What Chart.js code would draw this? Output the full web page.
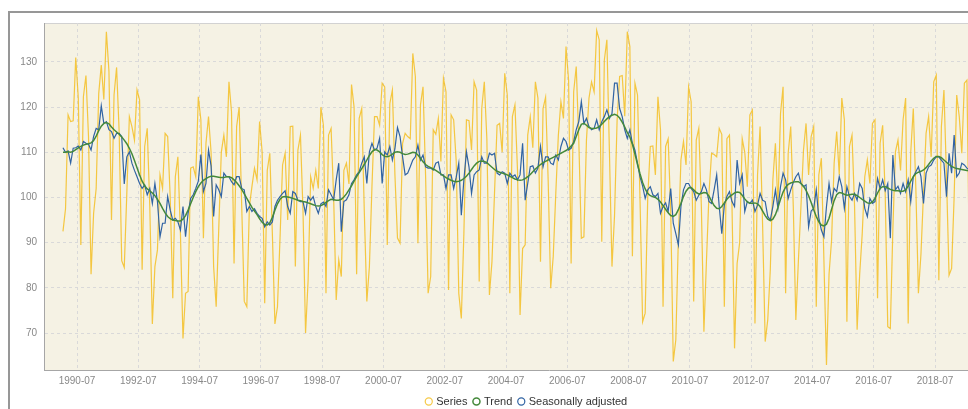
<!DOCTYPE html>
<html>
<head>
<meta charset="utf-8">
<script src="https://cdn.jsdelivr.net/npm/chart.js@4.4.0/dist/chart.umd.min.js"></script>
<style>
  html, body { margin: 0; padding: 0; background: #fff; overflow: hidden; width: 968px; height: 409px; }
  #frame { position: absolute; left: 8px; top: 11px; width: 1100px; height: 420px; border-top: 2px solid #979797; border-left: 2px solid #979797; }
  #wrap { position: absolute; left: 0; top: 0; width: 1054px; height: 417px; }
</style>
</head>
<body>
<div id="frame"></div>
<div id="wrap"><canvas id="chart" width="1054" height="417"></canvas></div>
<script>
// monthly data, first value = 1990-01
const startYear = 1990;

const tickLabels = ['1990-07', '1992-07', '1994-07', '1996-07', '1998-07', '2000-07', '2002-07',
  '2004-07', '2006-07', '2008-07', '2010-07', '2012-07', '2014-07', '2016-07', '2018-07'];
const yTicks = [70, 80, 90, 100, 110, 120, 130];

const series = [
  92.5, 97.5, 118.3, 116.8, 117.0, 131.0, 122.0, 89.5, 122.3, 127.0, 113.5, 83.0,
  96.5, 102.0, 123.0, 129.3, 121.7, 136.7, 128.0, 95.0, 122.7, 128.8, 114.6, 86.0,
  84.5, 100.9, 117.9, 115.7, 112.7, 123.8, 121.6, 84.0, 111.3, 115.3, 98.0, 72.0,
  84.7, 88.4, 105.0, 102.0, 114.2, 113.5, 100.0, 77.7, 104.6, 109.0, 92.0, 68.8,
  78.8, 79.2, 106.5, 106.8, 104.6, 122.3, 117.2, 91.0, 112.0, 117.9, 110.0, 84.7,
  75.8, 93.0, 110.0, 113.8, 109.0, 125.6, 119.0, 85.4, 115.7, 120.0, 98.0, 77.0,
  75.8, 98.0, 102.4, 106.5, 103.9, 116.8, 110.0, 76.6, 106.0, 109.8, 92.0, 72.0,
  75.8, 91.0, 107.2, 109.8, 95.0, 115.7, 115.8, 84.7, 110.5, 113.8, 97.0, 70.0,
  81.7, 104.6, 102.0, 106.0, 102.0, 120.0, 116.0, 78.8, 113.8, 115.3, 100.0, 77.3,
  86.2, 82.5, 106.0, 107.6, 103.0, 125.0, 120.0, 83.0, 117.5, 119.7, 97.0, 77.0,
  84.7, 102.4, 117.9, 117.9, 116.0, 125.3, 124.5, 89.5, 120.8, 123.8, 105.0, 91.0,
  89.9, 112.0, 114.2, 113.5, 113.0, 131.9, 126.8, 89.9, 120.5, 124.5, 105.0, 78.8,
  82.5, 115.0, 114.0, 117.5, 108.0, 126.4, 123.4, 79.5, 118.3, 117.2, 108.0, 78.8,
  73.2, 92.0, 117.2, 117.0, 110.5, 125.6, 123.8, 81.4, 119.7, 125.6, 113.0, 78.4,
  85.8, 101.0, 116.0, 116.4, 110.0, 127.5, 122.7, 78.8, 117.9, 120.5, 106.0, 74.0,
  88.7, 89.5, 113.8, 117.9, 111.0, 125.6, 122.0, 85.8, 119.7, 122.2, 104.0, 79.9,
  87.0, 101.0, 113.8, 121.2, 117.5, 133.4, 126.0, 85.4, 123.4, 129.0, 112.7, 91.0,
  91.3, 112.7, 122.0, 125.6, 123.4, 137.0, 134.9, 90.2, 130.4, 134.9, 110.0, 84.7,
  96.0, 117.0, 126.8, 127.0, 118.0, 136.7, 133.4, 87.0, 125.3, 122.7, 99.0, 72.5,
  74.4, 100.0, 111.3, 111.4, 105.0, 122.3, 115.0, 75.8, 111.3, 113.0, 97.0, 63.7,
  68.5, 91.0, 108.3, 112.4, 107.2, 124.5, 121.2, 77.0, 112.7, 115.3, 98.0, 70.3,
  86.0, 101.0, 109.8, 109.5, 109.0, 115.3, 114.0, 75.8, 113.0, 113.8, 98.0, 66.6,
  85.4, 90.0, 113.0, 110.0, 102.4, 118.3, 119.4, 72.1, 105.0, 115.7, 93.5, 68.1,
  72.9, 84.0, 103.9, 112.0, 98.0, 118.6, 124.5, 78.8, 109.8, 115.7, 98.0, 72.9,
  86.0, 98.0, 110.5, 116.4, 105.0, 113.5, 115.7, 75.8, 105.0, 108.7, 86.0, 62.9,
  83.0, 90.6, 107.6, 114.6, 105.0, 122.0, 117.2, 72.5, 111.3, 113.8, 98.0, 70.7,
  83.0, 92.0, 104.6, 108.3, 103.1, 116.4, 117.2, 77.7, 112.0, 116.0, 100.6, 71.4,
  71.0, 93.0, 110.1, 112.7, 106.0, 117.2, 122.0, 72.1, 110.0, 119.7, 102.0, 78.8,
  87.5, 101.0, 114.2, 117.9, 109.0, 125.6, 127.1, 81.7, 115.7, 123.8, 104.6, 82.8,
  84.3, 100.2, 122.7, 117.9, 109.8, 125.3, 126.0, 84.0
];

const trend = [
  110.0, 110.0, 110.1, 110.0, 110.2, 110.6, 111.0, 111.3, 111.6, 111.8, 111.9, 112.1,
  112.6, 113.6, 114.8, 115.8, 116.4, 116.6, 116.3, 115.6, 115.0, 114.5, 114.0, 113.4,
  112.7, 111.9, 110.9, 109.7, 108.2, 106.6, 105.0, 103.6, 102.6, 101.9, 101.5, 101.0,
  100.4, 99.6, 98.7, 97.6, 96.6, 95.8, 95.3, 95.0, 94.9, 94.8, 94.8, 95.2,
  96.0, 97.2, 98.6, 100.0, 101.3, 102.4, 103.2, 103.8, 104.2, 104.5, 104.7, 104.7,
  104.6, 104.5, 104.4, 104.4, 104.6, 104.6, 104.4, 103.9, 103.3, 102.6, 101.8, 100.8,
  99.8, 98.8, 97.8, 97.0, 96.2, 95.3, 94.5, 94.0, 93.9, 94.4, 95.6, 97.2,
  98.6, 99.6, 100.1, 100.2, 100.1, 100.0, 99.8, 99.6, 99.4, 99.3, 99.1, 99.0,
  98.8, 98.6, 98.4, 98.2, 98.1, 98.2, 98.5, 98.9, 99.3, 99.6, 99.5, 99.4,
  99.4, 99.6, 100.1, 100.8, 101.7, 102.6, 103.6, 104.6, 105.5, 106.4, 107.3, 108.3,
  109.3, 110.1, 110.6, 110.5, 110.1, 109.5, 109.1, 109.0, 109.2, 109.6, 110.0, 110.1,
  110.0, 109.7, 109.5, 109.6, 109.8, 110.0, 109.9, 109.4, 108.7, 107.9, 107.3, 106.9,
  106.6, 106.3, 106.0, 105.6, 105.2, 104.8, 104.4, 104.1, 103.8, 103.6, 103.5, 103.6,
  103.8, 104.2, 104.7, 105.4, 106.2, 107.0, 107.6, 108.0, 108.1, 108.0, 107.7, 107.2,
  106.7, 106.2, 105.8, 105.6, 105.4, 105.2, 105.0, 104.7, 104.4, 104.1, 103.9, 103.8,
  103.9, 104.2, 104.6, 105.1, 105.7, 106.3, 106.8, 107.3, 107.7, 108.0, 108.3, 108.6,
  108.9, 109.2, 109.5, 109.8, 110.1, 110.4, 110.8, 111.4, 112.0, 113.5, 115.0, 116.2,
  116.4, 116.0, 115.5, 115.3, 115.3, 115.4, 115.7, 116.2, 116.8, 117.4, 117.9, 118.2,
  118.4, 118.2, 117.6, 116.7, 115.6, 114.4, 113.4, 111.8, 109.6, 107.3, 105.2, 103.3,
  101.9, 100.9, 100.4, 100.2, 100.0, 99.6, 99.0, 98.2, 97.4, 96.6, 96.0, 95.8,
  96.2, 97.3, 98.7, 100.2, 101.4, 102.1, 102.2, 101.7, 101.1, 100.8, 100.9, 101.1,
  101.0, 100.3, 99.2, 98.2, 97.6, 97.5, 98.0, 98.8, 99.6, 100.2, 100.6, 101.0,
  101.2, 101.1, 100.5, 99.7, 99.0, 98.7, 98.7, 98.8, 98.6, 98.0, 97.0, 96.0,
  95.2, 94.9, 95.2, 96.2, 97.8, 99.6, 101.2, 102.3, 102.9, 103.2, 103.4, 103.5,
  103.5, 103.1, 102.5, 101.6, 100.4, 98.9, 97.3, 95.8, 94.6, 93.9, 93.7, 94.1,
  95.4, 97.4, 99.3, 100.6, 101.1, 101.0, 100.7, 100.5, 100.6, 100.7, 100.7, 100.4,
  100.0, 99.6, 99.2, 98.8, 98.7, 99.0, 99.8, 101.0, 102.0, 102.4, 102.4, 102.1,
  101.8, 101.6, 101.5, 101.5, 101.4, 101.4, 101.7, 102.5, 103.6, 104.6, 105.3, 105.6,
  105.8, 106.1, 106.6, 107.3, 108.1, 108.7, 109.1, 109.1, 108.8, 108.3, 107.8, 107.3,
  106.9, 106.6, 106.4, 106.3, 106.2, 106.1, 106.0, 105.9
];

const seasonallyAdjusted = [
  111.0, 110.0, 110.3, 107.6, 110.9, 111.0, 111.4, 110.5, 112.4, 112.0, 111.8, 110.5,
  113.5, 115.3, 115.0, 120.3, 116.4, 116.8, 115.0, 114.6, 113.1, 114.2, 114.2, 113.5,
  103.0, 109.0, 110.1, 107.6, 106.0, 104.6, 103.1, 102.0, 102.8, 100.6, 102.0, 98.7,
  103.1, 99.1, 91.3, 94.3, 94.3, 100.2, 97.2, 95.0, 95.4, 94.6, 92.8, 98.0,
  91.3, 96.5, 99.8, 100.6, 102.0, 103.6, 109.5, 101.3, 103.1, 110.5, 107.0, 95.8,
  102.8, 101.7, 100.2, 105.4, 104.6, 104.6, 103.5, 102.8, 104.6, 104.6, 102.0, 101.7,
  96.9, 98.0, 96.9, 97.5, 96.5, 95.8, 95.4, 93.5, 94.6, 93.9, 94.6, 98.0,
  99.4, 100.2, 100.9, 101.5, 98.0, 96.5, 101.3, 100.9, 99.4, 99.1, 99.1, 96.5,
  100.2, 99.4, 100.2, 98.0, 96.5, 98.6, 99.0, 98.0, 101.7, 100.6, 99.5, 103.9,
  107.6, 92.4, 99.1, 99.5, 100.6, 103.1, 103.9, 105.0, 105.7, 107.6, 109.0, 103.1,
  110.1, 112.0, 110.5, 110.9, 113.1, 103.1, 110.1, 109.4, 111.3, 108.3, 110.8, 115.5,
  113.5, 109.0, 105.0, 105.4, 106.8, 108.3, 109.0, 111.6, 108.3, 109.4, 106.8, 106.5,
  106.5, 106.1, 107.6, 107.9, 105.0, 105.0, 102.0, 105.0, 105.0, 102.0, 104.5, 107.6,
  96.1, 103.9, 110.1, 106.8, 100.9, 105.0, 105.7, 106.1, 109.0, 107.6, 107.6, 109.8,
  109.4, 109.8, 105.4, 105.0, 105.7, 105.4, 103.1, 105.4, 104.6, 105.0, 103.9, 105.0,
  112.0, 99.4, 103.1, 106.8, 107.0, 105.4, 106.5, 111.3, 106.8, 109.0, 109.0, 107.6,
  107.3, 109.4, 108.3, 111.3, 113.1, 112.4, 110.5, 110.9, 112.4, 115.0, 116.8, 121.2,
  116.4, 117.5, 115.7, 115.0, 115.3, 117.2, 115.0, 116.8, 117.9, 119.4, 117.5, 118.6,
  125.3, 125.3, 119.7, 117.9, 115.0, 113.1, 115.0, 112.0, 110.5, 107.5, 104.5, 102.5,
  99.8, 101.7, 102.4, 100.6, 100.2, 100.9, 96.5, 98.0, 98.8, 96.9, 102.0, 94.3,
  92.0, 89.5, 98.0, 101.7, 103.1, 103.1, 102.0, 101.3, 99.4, 100.5, 101.3, 103.1,
  101.7, 99.1, 98.7, 101.7, 105.0, 98.0, 92.0, 98.3, 100.2, 101.3, 99.1, 98.0,
  108.3, 103.1, 105.0, 96.9, 99.1, 98.7, 99.4, 96.9, 98.3, 100.9, 99.4, 99.1,
  95.8, 95.0, 98.0, 101.7, 97.6, 102.4, 105.4, 103.9, 99.8, 101.7, 103.3, 104.6,
  105.4, 103.1, 102.4, 102.8, 93.5, 97.0, 97.6, 101.7, 95.5, 92.8, 91.3, 98.0,
  103.1, 99.1, 102.0, 101.3, 104.6, 102.4, 97.6, 102.4, 100.2, 99.4, 100.9, 99.4,
  103.1, 102.0, 97.6, 95.8, 99.8, 98.7, 99.1, 104.2, 102.0, 103.9, 101.5, 103.1,
  91.0, 109.4, 101.7, 102.5, 100.9, 103.1, 101.3, 103.9, 99.1, 104.6, 105.7, 106.8,
  104.6, 98.7, 105.4, 106.8, 107.2, 108.3, 109.0, 109.0, 108.3, 107.6, 100.2, 109.8,
  105.4, 113.8, 104.6, 105.4, 107.6, 107.2, 106.5, 106.1
];

const legendOrder = ['Series', 'Trend', 'Seasonally adjusted'];

// x axis in months since startYear-01; a month's point sits mid-month
const toPoints = arr => arr.map((v, i) => ({ x: i + 0.5, y: v }));
const tickPos = tickLabels.map(t => {
  const [y, m] = t.split('-').map(Number);
  return (y - startYear) * 12 + (m - 1);
});

const plotBg = {
  id: 'plotBg',
  beforeDraw(chart) {
    const { ctx, chartArea: a } = chart;
    ctx.save();
    ctx.fillStyle = '#f5f2e4';
    ctx.fillRect(a.left, a.top, a.right - a.left, a.bottom - a.top);
    ctx.strokeStyle = '#d2d2d2';
    ctx.lineWidth = 1;
    ctx.beginPath();
    ctx.moveTo(a.left, a.top + 0.5);
    ctx.lineTo(a.right, a.top + 0.5);
    ctx.stroke();
    ctx.restore();
  }
};

const ctx = document.getElementById('chart').getContext('2d');
new Chart(ctx, {
  type: 'line',
  data: {
    datasets: [
      { label: 'Trend', data: toPoints(trend), borderColor: '#44893a', backgroundColor: '#ffffff', borderWidth: 1.5, order: 0 },
      { label: 'Seasonally adjusted', data: toPoints(seasonallyAdjusted), borderColor: '#3063a3', backgroundColor: '#ffffff', borderWidth: 1.2, order: 1 },
      { label: 'Series', data: toPoints(series), borderColor: 'rgba(244, 187, 24, 0.8)', backgroundColor: '#ffffff', borderWidth: 1.2, order: 2 }
    ]
  },
  options: {
    responsive: false,
    animation: false,
    layout: { padding: { left: 0, right: 0, top: 23, bottom: 0 } },
    elements: { point: { radius: 0 }, line: { tension: 0 } },
    plugins: {
      tooltip: { enabled: false },
      legend: {
        position: 'bottom',
        labels: {
          usePointStyle: true,
          pointStyle: 'circle',
          boxWidth: 4,
          boxHeight: 5,
          padding: 7,
          color: '#333',
          font: { family: 'Arial', size: 11 },
          sort: (a, b) => legendOrder.indexOf(a.text) - legendOrder.indexOf(b.text)
        }
      }
    },
    scales: {
      x: {
        type: 'linear',
        min: -6.93,
        max: 388.6,
        afterBuildTicks: s => { s.ticks = tickPos.map(v => ({ value: v })); },
        afterFit: s => { s.height = 19; },
        ticks: {
          autoSkip: false,
          maxRotation: 0,
          padding: 5,
          color: '#888',
          font: { family: 'Arial', size: 10 },
          callback: (v, i) => tickLabels[i]
        },
        grid: { color: '#d9d9d9', drawTicks: false },
        border: { color: '#a6a6a6', dash: [3, 3] }
      },
      y: {
        min: 61.81,
        max: 138.63,
        afterBuildTicks: s => { s.ticks = yTicks.map(v => ({ value: v })); },
        afterFit: s => { s.width = 44; },
        ticks: {
          padding: 7,
          color: '#888',
          font: { family: 'Arial', size: 10 }
        },
        grid: { color: '#d9d9d9', drawTicks: false },
        border: { color: '#a6a6a6', dash: [3, 3] }
      }
    }
  },
  plugins: [plotBg]
});
</script>
</body>
</html>
